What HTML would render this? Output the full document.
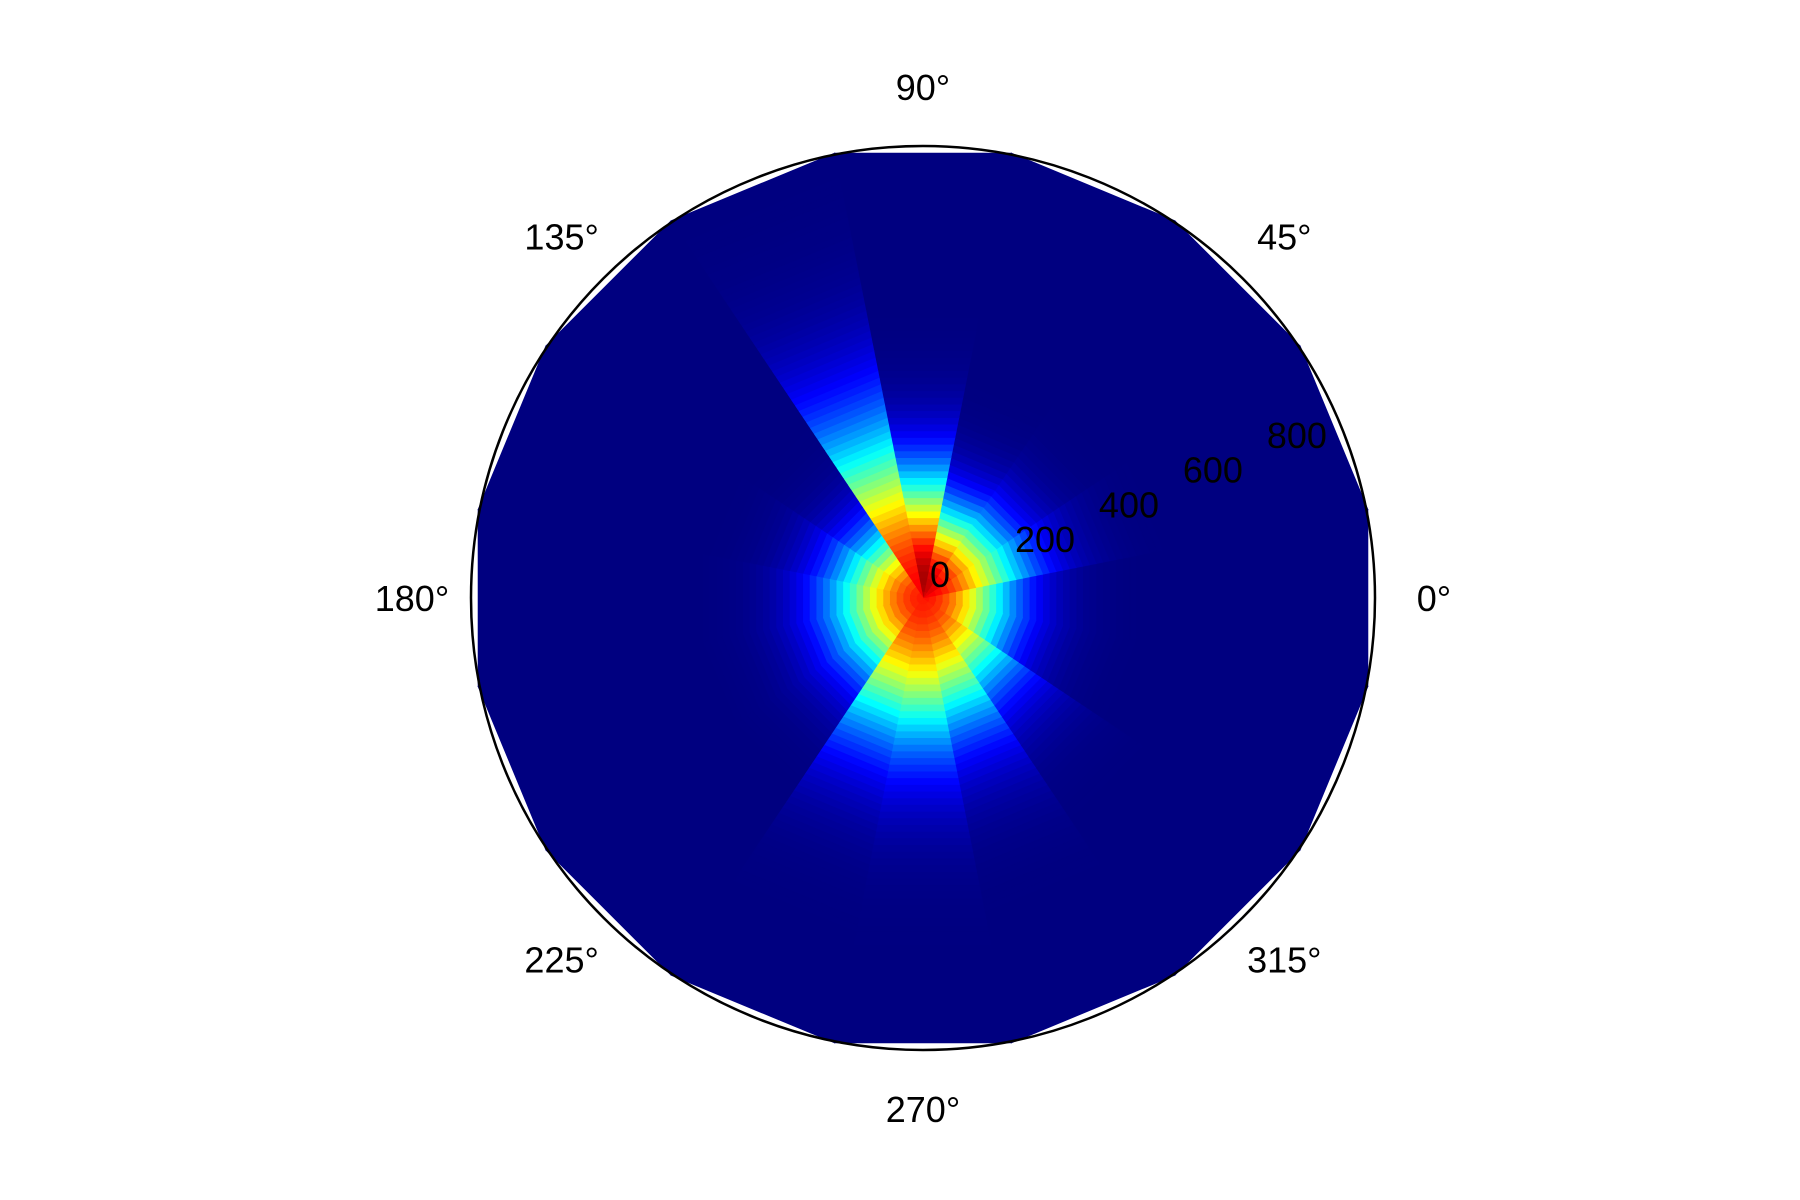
<!DOCTYPE html>
<html><head><meta charset="utf-8"><style>
html,body{margin:0;padding:0;background:#fff;}
svg{display:block;}
text{font-family:"Liberation Sans",Arial,sans-serif;fill:#000;}
</style></head><body>
<svg id="chart" width="1800" height="1200" viewBox="0 0 1800 1200" xmlns="http://www.w3.org/2000/svg">
<g id="cells"></g>
<circle cx="923" cy="598" r="452" fill="none" stroke="#000" stroke-width="2.5"/>
<g id="labels"></g>
</svg>
<script>
// angular bin centers (degrees)
const angleBins = [0,22.5,45,67.5,90,112.5,135,157.5,180,202.5,225,247.5,270,292.5,315,337.5];
// spread of the intensity per angle bin (radius units)
const spreads = [185,205,185,172,225,360,172,185,193,193,193,290,300,270,225,185];
// peak offset per angle bin (radius units)
const peakOffsets = [0,10,20,30,40,10,0,0,0,0,0,0,0,0,0,0];
// peak amplitude per angle bin
const amplitudes = [0.86,0.88,0.9,0.93,0.96,0.88,0.85,0.85,0.85,0.85,0.85,0.85,0.85,0.85,0.85,0.86];
const radialMax = 1000;
const polyMax = 998;
const radialStep = 15;
const rTicks = [0,200,400,600,800];
const thetaTicks = [0,45,90,135,180,225,270,315];

const cx = 923, cy = 598, pxPerUnit = 0.4545;
const NS = "http://www.w3.org/2000/svg";
function rScale(r){return r*pxPerUnit;}
function pt(r,deg){const a=deg*Math.PI/180;return [cx+rScale(r)*Math.cos(a), cy-rScale(r)*Math.sin(a)];}
function cl(x){return Math.max(0,Math.min(1,x));}
function jet(v){
  const r=cl(1.5-Math.abs(4*v-3)), g=cl(1.5-Math.abs(4*v-2)), b=cl(1.5-Math.abs(4*v-1));
  return `rgb(${Math.round(r*255)},${Math.round(g*255)},${Math.round(b*255)})`;
}
const cells = document.getElementById('cells');
const half = 360/angleBins.length/2;
angleBins.forEach((a,i)=>{
  for(let r0=0;r0<polyMax;r0+=radialStep){
    const r1=Math.min(r0+radialStep,polyMax), rm=r0+radialStep/2;
    const d=(rm-peakOffsets[i])/spreads[i];
    const v=amplitudes[i]*Math.exp(-d*d);
    const p=[pt(r0,a-half),pt(r1,a-half),pt(r1,a+half),pt(r0,a+half)];
    const el=document.createElementNS(NS,'polygon');
    el.setAttribute('points',p.map(q=>q[0].toFixed(2)+','+q[1].toFixed(2)).join(' '));
    const c=jet(v);
    el.setAttribute('fill',c);el.setAttribute('stroke',c);el.setAttribute('stroke-width','0.8');
    
    
    cells.appendChild(el);
  }
});
const labels=document.getElementById('labels');
thetaTicks.forEach(t=>{
  const a=t*Math.PI/180, R=511;
  const el=document.createElementNS(NS,'text');
  el.setAttribute('x',cx+R*Math.cos(a));el.setAttribute('y',cy-R*Math.sin(a)+13);
  el.setAttribute('text-anchor','middle');el.setAttribute('font-size','36');
  el.textContent=t+'°';
  
  
  labels.appendChild(el);
});
rTicks.forEach(t=>{
  const [x,y]=pt(t,22.5);
  const el=document.createElementNS(NS,'text');
  el.setAttribute('x',x+(t===0?17:38));el.setAttribute('y',y-24+13);
  el.setAttribute('text-anchor','middle');el.setAttribute('font-size','36');
  el.textContent=t;
  
  
  labels.appendChild(el);
});
</script>
</body></html>
